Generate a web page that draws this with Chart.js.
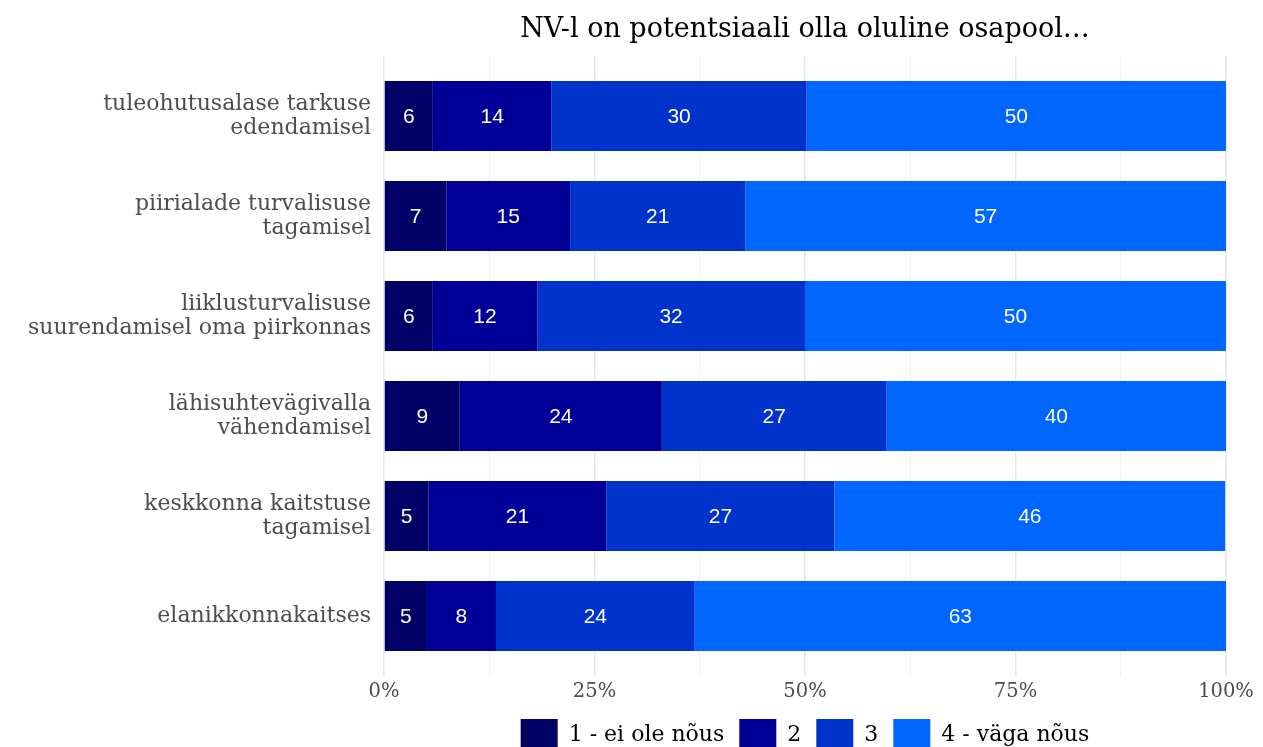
<!DOCTYPE html>
<html>
<head>
<meta charset="utf-8">
<script src="https://cdn.jsdelivr.net/npm/chart.js@4.4.1/dist/chart.umd.min.js"></script>
<style>
  html, body { margin: 0; padding: 0; background: #fff; }
  #wrap { width: 1263px; height: 747px; }
</style>
</head>
<body>
<div id="wrap"><canvas id="chart" width="1263" height="747"></canvas></div>
<script>
// chart data
const chartTitle = 'NV-l on potentsiaali olla oluline osapool…';
const categories = [
    ['tuleohutusalase tarkuse', 'edendamisel'],
    ['piirialade turvalisuse', 'tagamisel'],
    ['liiklusturvalisuse', 'suurendamisel oma piirkonnas'],
    ['lähisuhtevägivalla', 'vähendamisel'],
    ['keskkonna kaitstuse', 'tagamisel'],
    'elanikkonnakaitses'
];
const seriesNames = ['1 - ei ole nõus', '2', '3', '4 - väga nõus'];
const agree1 = [5.8, 7.4, 5.8, 9.0, 5.3, 5.1];
const agree2 = [14.1, 14.7, 12.4, 24.0, 21.1, 8.2];
const agree3 = [30.3, 20.8, 31.8, 26.7, 27.1, 23.6];
const agree4 = [49.8, 57.1, 50.0, 40.3, 46.4, 63.1];
const colors = ['#000066', '#000099', '#0033cc', '#0066ff'];
const xTicks = [0, 25, 50, 75, 100];

const serif = "'DejaVu Serif', serif";

// value labels in the middle of each segment
const barLabels = {
    id: 'barLabels',
    afterDatasetsDraw(chart) {
        const ctx = chart.ctx;
        ctx.save();
        ctx.font = "21px 'Liberation Sans', Arial, sans-serif";
        ctx.fillStyle = '#ffffff';
        ctx.textAlign = 'center';
        ctx.textBaseline = 'middle';
        chart.data.datasets.forEach((ds, i) => {
            chart.getDatasetMeta(i).data.forEach((bar, j) => {
                ctx.fillText(Math.round(ds.data[j]), (bar.x + bar.base) / 2, bar.y + 1);
            });
        });
        ctx.restore();
    }
};

// title and legend centred over the panel, like the original
const panelText = {
    id: 'panelText',
    afterDraw(chart) {
        const ctx = chart.ctx;
        const area = chart.chartArea;
        const mid = (area.left + area.right) / 2;
        ctx.save();
        ctx.fillStyle = '#000000';
        ctx.font = '27px ' + serif;
        ctx.textAlign = 'center';
        ctx.textBaseline = 'middle';
        ctx.fillText(chartTitle, mid, 30);

        ctx.font = '22px ' + serif;
        const boxW = 37, boxH = 30, gap = 11, spacing = 15;
        const widths = seriesNames.map(n => ctx.measureText(n).width);
        let total = 0;
        widths.forEach(w => { total += boxW + gap + w; });
        total += spacing * (seriesNames.length - 1);
        let x = mid - total / 2;
        ctx.textAlign = 'left';
        seriesNames.forEach((name, i) => {
            ctx.fillStyle = colors[i];
            ctx.fillRect(x, 719, boxW, boxH);
            ctx.fillStyle = '#000000';
            ctx.fillText(name, x + boxW + gap, 735);
            x += boxW + gap + widths[i] + spacing;
        });
        ctx.restore();
    }
};

const datasets = [agree1, agree2, agree3, agree4].map((vals, i) => ({
    label: seriesNames[i],
    data: vals,
    backgroundColor: colors[i],
    borderWidth: 0,
    categoryPercentage: 0.7,
    barPercentage: 1.0
}));

const gridColor = ctx => (ctx.tick && ctx.tick.value % 25 === 0) ? '#e8e8e8' : '#f0f0f0';
const gridWidth = ctx => (ctx.tick && ctx.tick.value % 25 === 0) ? 1.5 : 1;

new Chart(document.getElementById('chart').getContext('2d'), {
    type: 'bar',
    data: { labels: categories, datasets: datasets },
    options: {
        indexAxis: 'y',
        responsive: false,
        animation: false,
        layout: { padding: { top: 56, right: 37, left: 0, bottom: 0 } },
        plugins: {
            legend: { display: false },
            title: { display: false },
            tooltip: { enabled: false }
        },
        scales: {
            x: {
                stacked: true,
                min: 0,
                max: 100,
                afterBuildTicks: scale => {
                    scale.ticks = [];
                    for (let v = 0; v <= 100; v += 12.5) scale.ticks.push({ value: v });
                },
                afterFit: scale => { scale.height = 81; },
                border: { display: false },
                grid: { color: gridColor, lineWidth: gridWidth, tickLength: 10, tickColor: gridColor },
                ticks: {
                    autoSkip: false,
                    maxRotation: 0,
                    padding: 4,
                    color: '#4d4d4d',
                    font: { family: serif, size: 19.5 },
                    callback: v => xTicks.includes(v) ? v + '%' : ''
                }
            },
            xTop: {
                type: 'linear',
                position: 'top',
                axis: 'x',
                min: 0,
                max: 100,
                afterBuildTicks: scale => {
                    scale.ticks = [];
                    for (let v = 0; v <= 100; v += 12.5) scale.ticks.push({ value: v });
                },
                afterFit: scale => { scale.height = 10; },
                border: { display: false },
                grid: { drawOnChartArea: false, color: gridColor, lineWidth: gridWidth, tickLength: 10, tickColor: gridColor },
                ticks: { display: false }
            },
            y: {
                stacked: true,
                afterFit: scale => { scale.width = 384; },
                border: { display: false },
                grid: { display: false, drawTicks: false },
                ticks: {
                    padding: 13,
                    color: '#4d4d4d',
                    font: { family: serif, size: 22, lineHeight: 1.1 }
                }
            }
        }
    },
    plugins: [barLabels, panelText]
});
</script>
</body>
</html>
